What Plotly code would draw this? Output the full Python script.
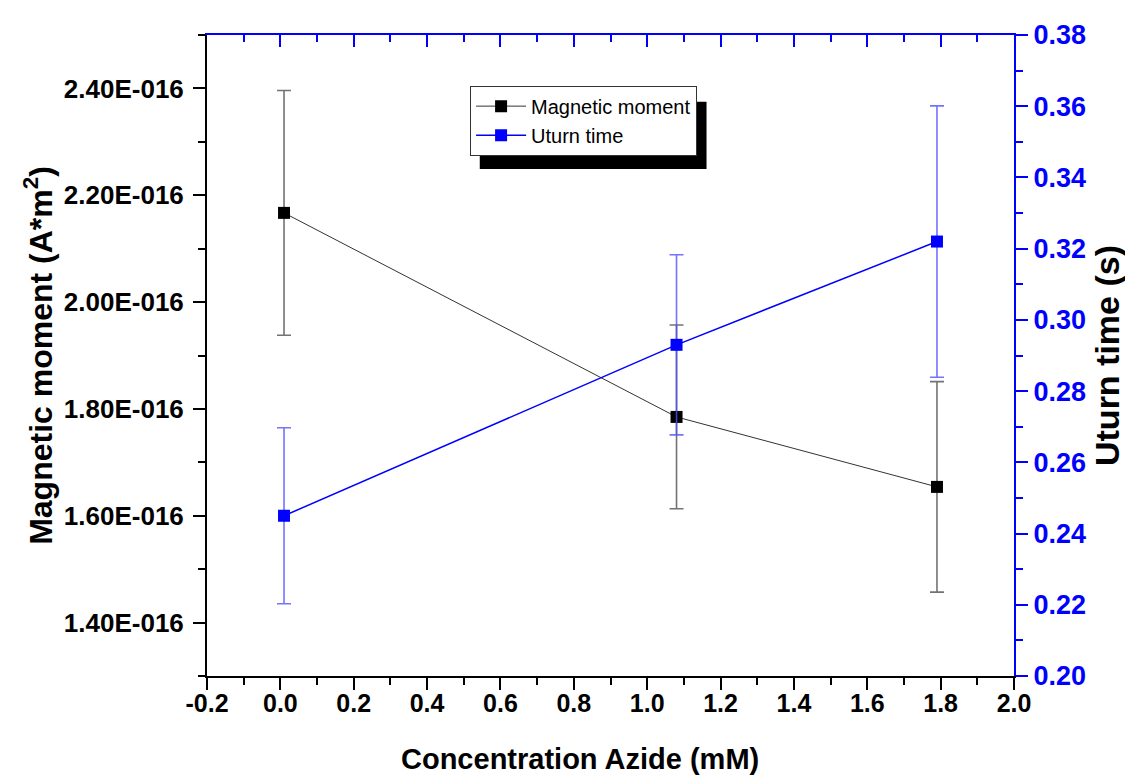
import plotly.graph_objects as go

# ---- data ----
concentration = [0.01, 1.08, 1.79]
magnetic_moment = [2.167e-16, 1.785e-16, 1.654e-16]
magnetic_moment_err = [0.229e-16, 0.172e-16, 0.197e-16]
uturn_time = [0.245, 0.293, 0.322]
uturn_time_err = [0.0247, 0.0253, 0.0381]

x_tickvals = [-0.2, 0.0, 0.2, 0.4, 0.6, 0.8, 1.0, 1.2, 1.4, 1.6, 1.8, 2.0]
x_ticktext = ["-0.2", "0.0", "0.2", "0.4", "0.6", "0.8", "1.0", "1.2", "1.4", "1.6", "1.8", "2.0"]
left_tickvals = [1.4e-16, 1.6e-16, 1.8e-16, 2.0e-16, 2.2e-16, 2.4e-16]
left_ticktext = ["1.40E-016", "1.60E-016", "1.80E-016", "2.00E-016", "2.20E-016", "2.40E-016"]

FONT = "Arial, Liberation Sans, sans-serif"
BLUE = "#0000ff"

fig = go.Figure()

fig.add_trace(go.Scatter(
    x=concentration, y=magnetic_moment, name="Magnetic moment",
    mode="lines+markers",
    line=dict(color="#333333", width=1),
    marker=dict(symbol="square", size=12, color="black"),
    error_y=dict(type="data", array=magnetic_moment_err, visible=True,
                 color="rgba(90,90,90,0.85)", thickness=1.6, width=7),
    yaxis="y",
))
fig.add_trace(go.Scatter(
    x=concentration, y=uturn_time, name="Uturn time",
    mode="lines+markers",
    line=dict(color=BLUE, width=1.5),
    marker=dict(symbol="square", size=12, color=BLUE),
    error_y=dict(type="data", array=uturn_time_err, visible=True,
                 color="rgba(80,80,255,0.8)", thickness=1.6, width=7),
    yaxis="y2",
))

fig.update_layout(
    width=1133, height=779,
    margin=dict(l=199, r=127, t=21, b=111),
    paper_bgcolor="white", plot_bgcolor="white",
    showlegend=True,
    legend=dict(
        x=0.326, y=0.921, xanchor="left", yanchor="top",
        bgcolor="white", bordercolor="#333333", borderwidth=1,
        font=dict(family=FONT, size=20, color="black"),
        tracegroupgap=0, itemwidth=50,
    ),
    xaxis=dict(
        range=[-0.2, 2.0], tickvals=x_tickvals, ticktext=x_ticktext,
        showgrid=False, zeroline=False,
        showline=True, linecolor="black", linewidth=2,
        ticks="outside", ticklen=12, tickwidth=2, tickcolor="black",
        minor=dict(dtick=0.1, tick0=-0.2, ticks="outside", ticklen=7, tickwidth=2, tickcolor="black", showgrid=False),
        tickfont=dict(family=FONT, size=25, color="black", weight="bold"),
        ticklabelstandoff=-8,
    ),
    xaxis2=dict(
        range=[-0.2, 2.0], dtick=0.2, tick0=-0.2, overlaying="x", side="top",
        showgrid=False, zeroline=False, showticklabels=False,
        showline=True, linecolor=BLUE, linewidth=2,
        ticks="inside", ticklen=12, tickwidth=2, tickcolor=BLUE,
        minor=dict(dtick=0.1, ticks="inside", ticklen=7, tickwidth=2, tickcolor=BLUE, showgrid=False),
    ),
    yaxis=dict(
        range=[1.3e-16, 2.5e-16],
        tickvals=left_tickvals, ticktext=left_ticktext,
        showgrid=False, zeroline=False,
        showline=True, linecolor="black", linewidth=2,
        ticks="outside", ticklen=12, tickwidth=2, tickcolor="black",
        minor=dict(dtick=0.1e-16, tick0=1.3e-16, ticks="outside", ticklen=7, tickwidth=2, tickcolor="black", showgrid=False),
        tickfont=dict(family=FONT, size=26, color="black", weight="bold"),
        ticklabelstandoff=4,
        title=dict(text="Magnetic moment (A*m<sup>2</sup>)",
                   font=dict(family=FONT, size=32, color="black", weight="bold"), standoff=2),
    ),
    yaxis2=dict(
        range=[0.20, 0.38], dtick=0.02, tick0=0.20, tickformat=".2f",
        overlaying="y", side="right",
        showgrid=False, zeroline=False,
        showline=True, linecolor=BLUE, linewidth=2,
        ticks="outside", ticklen=12, tickwidth=2, tickcolor=BLUE,
        minor=dict(dtick=0.01, ticks="outside", ticklen=7, tickwidth=2, tickcolor=BLUE, showgrid=False),
        tickfont=dict(family=FONT, size=27, color=BLUE, weight="bold"),
        title=dict(text="Uturn time (s)",
                   font=dict(family=FONT, size=34, color="black", weight="bold"), standoff=10),
    ),
)

# x-axis title (placed slightly left of centre, as in the original)
fig.add_annotation(text="Concentration Azide (mM)", xref="paper", yref="paper",
                   x=0.462, y=-0.13, xanchor="center", yanchor="middle", showarrow=False,
                   font=dict(family=FONT, size=29, color="black", weight="bold"))

# dummy trace to activate the top axis
fig.add_trace(go.Scatter(x=[None], y=[None], xaxis="x2", showlegend=False, hoverinfo="skip"))

# legend drop shadow
fig.add_shape(type="rect", xref="paper", yref="paper",
              x0=0.338, x1=0.619, y0=0.791, y1=0.896,
              fillcolor="black", line=dict(width=0), layer="above")

fig.write_html("out.html")
